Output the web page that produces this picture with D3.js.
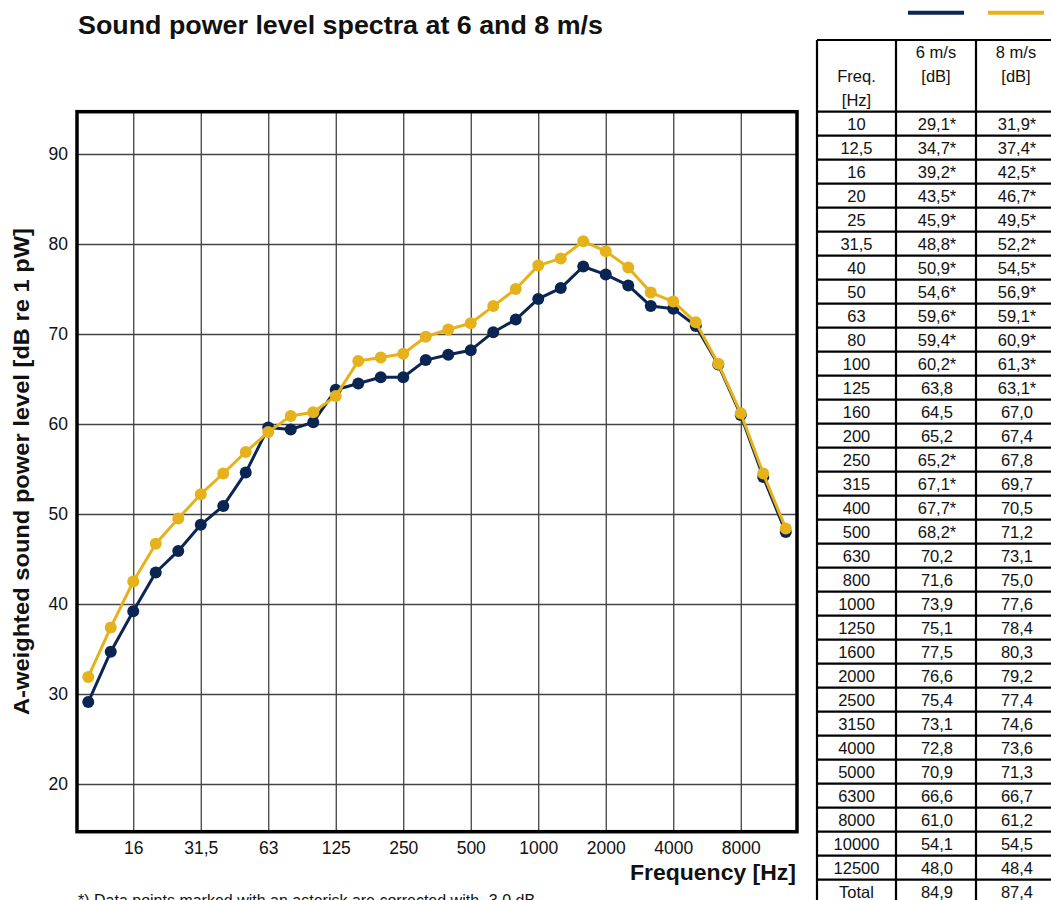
<!DOCTYPE html>
<html>
<head>
<meta charset="utf-8">
<script src="https://cdn.jsdelivr.net/npm/d3@7"></script>
<style>
  html, body { margin: 0; padding: 0; background: #fff; }
  svg { display: block; font-family: "Liberation Sans", Arial, sans-serif; }
</style>
</head>
<body>
<svg id="chart" width="1051" height="900"></svg>
<script>
// Third-octave band centre frequencies (table labels)
const bands = ["10","12,5","16","20","25","31,5","40","50","63","80","100","125","160","200","250","315","400","500","630","800","1000","1250","1600","2000","2500","3150","4000","5000","6300","8000","10000","12500"];

// A-weighted sound power level per band [dB re 1 pW]
const level6 = [29.1,34.7,39.2,43.5,45.9,48.8,50.9,54.6,59.6,59.4,60.2,63.8,64.5,65.2,65.2,67.1,67.7,68.2,70.2,71.6,73.9,75.1,77.5,76.6,75.4,73.1,72.8,70.9,66.6,61.0,54.1,48.0];
const level8 = [31.9,37.4,42.5,46.7,49.5,52.2,54.5,56.9,59.1,60.9,61.3,63.1,67.0,67.4,67.8,69.7,70.5,71.2,73.1,75.0,77.6,78.4,80.3,79.2,77.4,74.6,73.6,71.3,66.7,61.2,54.5,48.4];

// Bands corrected by -3,0 dB (shown with an asterisk)
const corrected6 = [1,1,1,1,1,1,1,1,1,1,1,0,0,0,1,1,1,1,0,0,0,0,0,0,0,0,0,0,0,0,0,0];
const corrected8 = [1,1,1,1,1,1,1,1,1,1,1,1,0,0,0,0,0,0,0,0,0,0,0,0,0,0,0,0,0,0,0,0];

const totals = ["84,9", "87,4"];

// Octave gridlines on the frequency axis
const xTickIndex = [2,5,8,11,14,17,20,23,26,29];
const xTickLabels = ["16","31,5","63","125","250","500","1000","2000","4000","8000"];
const yTicks = [20,30,40,50,60,70,80,90];

const colors = { v6: "#0b2553", v8: "#e6b21b" };

const svg = d3.select("#chart");

// ---- plot area ----
const plot = { left: 77, right: 797, top: 111.7, bottom: 831.7 };
const x = d3.scaleLinear().domain([-0.5, 31.5]).range([plot.left, plot.right]);
const y = d3.scaleLinear().domain([14.7, 94.7]).range([plot.bottom, plot.top]);

// gridlines
const gx = svg.append("g")
  .attr("transform", `translate(0,${plot.bottom})`)
  .call(d3.axisBottom(x)
    .tickValues(xTickIndex)
    .tickFormat((d, i) => xTickLabels[i])
    .tickSize(-(plot.bottom - plot.top))
    .tickSizeOuter(0)
    .tickPadding(10));
gx.select(".domain").remove();
gx.selectAll(".tick line").attr("stroke", "#333").attr("stroke-width", 1.2);
gx.selectAll(".tick text").attr("font-size", 17.5).attr("fill", "#111")
  .attr("font-family", "Liberation Sans, Arial, sans-serif");

const gy = svg.append("g")
  .attr("transform", `translate(${plot.left},0)`)
  .call(d3.axisLeft(y)
    .tickValues(yTicks)
    .tickSize(-(plot.right - plot.left))
    .tickSizeOuter(0)
    .tickPadding(9));
gy.select(".domain").remove();
gy.selectAll(".tick line").attr("stroke", "#444").attr("stroke-width", 1.4);
gy.selectAll(".tick text").attr("font-size", 17.5).attr("fill", "#111")
  .attr("font-family", "Liberation Sans, Arial, sans-serif");

// frame
svg.append("rect")
  .attr("x", plot.left).attr("y", plot.top)
  .attr("width", plot.right - plot.left).attr("height", plot.bottom - plot.top)
  .attr("fill", "none").attr("stroke", "#000").attr("stroke-width", 3.5);

// series
const series = [
  { values: level6, color: colors.v6 },
  { values: level8, color: colors.v8 }
];
const line = d3.line().x((d, i) => x(i)).y(d => y(d));
series.forEach(s => {
  const g = svg.append("g");
  g.append("path").attr("d", line(s.values))
    .attr("fill", "none").attr("stroke", s.color).attr("stroke-width", 3)
    .attr("stroke-linejoin", "round");
  g.selectAll("circle").data(s.values).join("circle")
    .attr("cx", (d, i) => x(i)).attr("cy", d => y(d)).attr("r", 6)
    .attr("fill", s.color);
});

// ---- titles ----
svg.append("text").attr("x", 78).attr("y", 34)
  .attr("font-size", 25).attr("font-weight", "bold").attr("fill", "#111")
  .attr("textLength", 525).attr("lengthAdjust", "spacingAndGlyphs")
  .text("Sound power level spectra at 6 and 8 m/s");

svg.append("text")
  .attr("transform", `translate(29,${(228 + 715) / 2}) rotate(-90)`)
  .attr("text-anchor", "middle")
  .attr("font-size", 22).attr("font-weight", "bold").attr("fill", "#111")
  .attr("textLength", 487).attr("lengthAdjust", "spacingAndGlyphs")
  .text("A-weighted sound power level [dB re 1 pW]");

svg.append("text").attr("x", 630).attr("y", 880)
  .attr("font-size", 22).attr("font-weight", "bold").attr("fill", "#111")
  .attr("textLength", 166).attr("lengthAdjust", "spacingAndGlyphs")
  .text("Frequency [Hz]");

svg.append("text").attr("x", 78).attr("y", 906)
  .attr("font-size", 16).attr("fill", "#111")
  .text("*) Data points marked with an asterisk are corrected with -3,0 dB");

// ---- legend swatches above the table ----
const legendX = [[908, 964], [988, 1044]];
[colors.v6, colors.v8].forEach((c, i) => {
  svg.append("line")
    .attr("x1", legendX[i][0]).attr("x2", legendX[i][1])
    .attr("y1", 12.7).attr("y2", 12.7)
    .attr("stroke", c).attr("stroke-width", 4);
});

// ---- data table ----
const colX = [817, 896, 976, 1056];
const headTop = 40, rowTop = 111.7, rowH = 24;
const tbl = svg.append("g").attr("font-size", 16.5).attr("fill", "#111");

const rows = bands.map((b, i) => ({
  freq: b,
  a: d3.format(".1f")(level6[i]).replace(".", ",") + (corrected6[i] ? "*" : ""),
  b: d3.format(".1f")(level8[i]).replace(".", ",") + (corrected8[i] ? "*" : "")
}));
rows.push({ freq: "Total", a: totals[0], b: totals[1] });

const nRows = rows.length;
const tableBottom = rowTop + nRows * rowH;

// header text
const colMid = i => (colX[i] + colX[i + 1]) / 2;
const headLines = [
  { col: 0, lines: [["Freq.", 76], ["[Hz]", 100]] },
  { col: 1, lines: [["6 m/s", 52], ["[dB]", 76]] },
  { col: 2, lines: [["8 m/s", 52], ["[dB]", 76]] }
];
headLines.forEach(h => h.lines.forEach(([t, cy]) => {
  tbl.append("text").attr("x", colMid(h.col)).attr("y", cy + 6)
    .attr("text-anchor", "middle").attr("font-size", 16.5).text(t);
}));

// body text
rows.forEach((r, i) => {
  const cy = rowTop + i * rowH + rowH / 2 + 6;
  [r.freq, r.a, r.b].forEach((t, c) => {
    tbl.append("text").attr("x", colMid(c) + (c > 0 ? 1 : 0)).attr("y", cy)
      .attr("text-anchor", "middle").text(t);
  });
});

// table rules
const rules = svg.append("g").attr("stroke", "#000").attr("stroke-width", 2.2);
rules.append("line").attr("x1", colX[0]).attr("x2", colX[3]).attr("y1", headTop).attr("y2", headTop);
d3.range(nRows + 1).forEach(i => {
  const yy = rowTop + i * rowH;
  rules.append("line").attr("x1", colX[0]).attr("x2", colX[3]).attr("y1", yy).attr("y2", yy);
});
colX.forEach(cx => {
  rules.append("line").attr("x1", cx).attr("x2", cx).attr("y1", headTop).attr("y2", tableBottom);
});
</script>
</body>
</html>
